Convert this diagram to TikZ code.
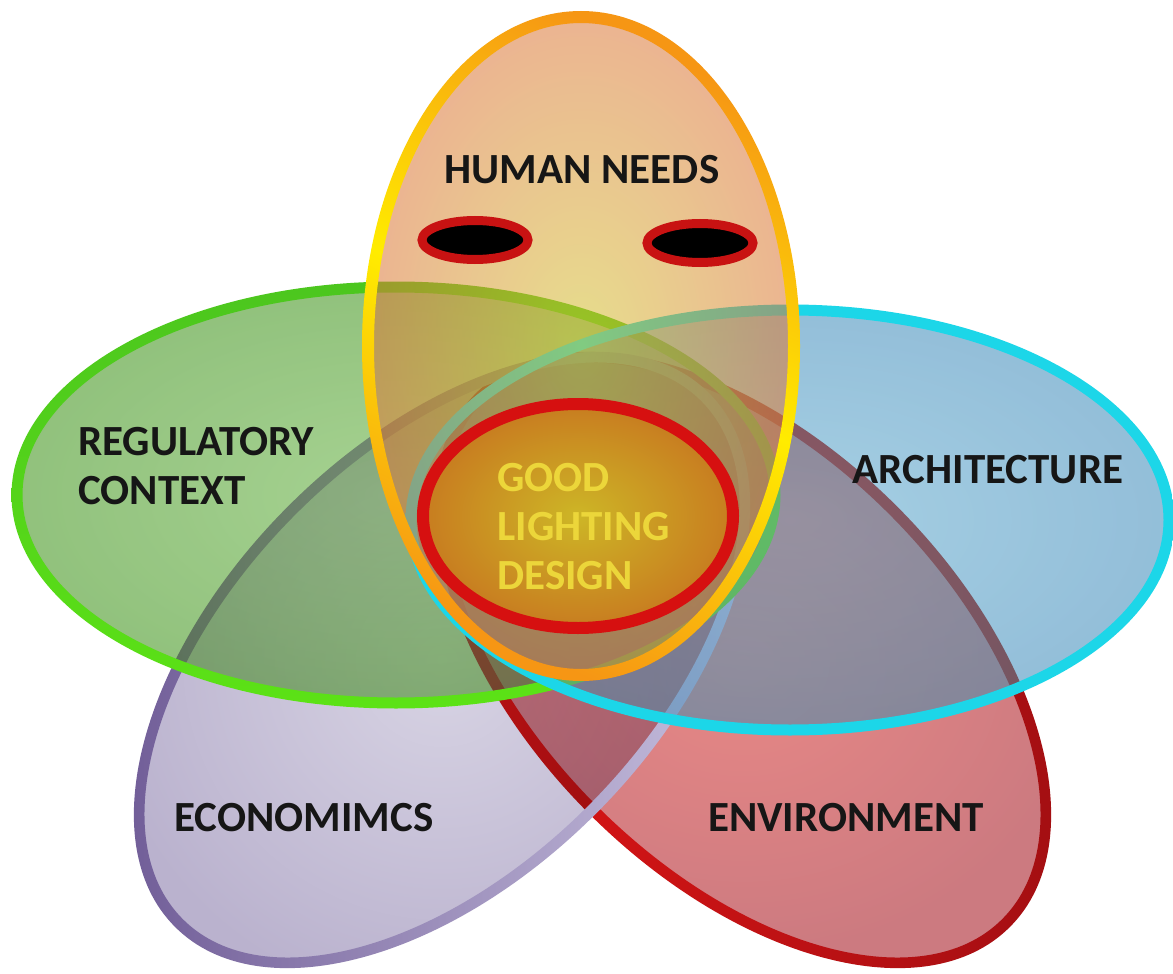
\documentclass[tikz,border=0pt]{standalone}
\usepackage{fontspec}
\setmainfont{Carlito}

% fills
\definecolor{needsPeach}{RGB}{220,119,55}
\definecolor{needsGlow}{RGB}{212,195,46}
\definecolor{ruleGreen}{RGB}{158,203,136}
\definecolor{ruleLight}{RGB}{170,214,150}
\definecolor{ruleShade}{RGB}{140,190,120}
\definecolor{archBlue}{RGB}{158,200,222}
\definecolor{archLight}{RGB}{172,214,232}
\definecolor{archShade}{RGB}{140,184,214}
\definecolor{econLilac}{RGB}{203,198,218}
\definecolor{econLightFill}{RGB}{216,212,228}
\definecolor{econShade}{RGB}{186,178,206}
\definecolor{envRed}{RGB}{222,130,130}
\definecolor{envLightFill}{RGB}{232,136,134}
\definecolor{envShade}{RGB}{204,122,128}
\definecolor{gldCore}{RGB}{205,182,38}
\definecolor{gldAmber}{RGB}{200,124,32}
% rims
\definecolor{needsOrange}{RGB}{246,150,20}
\definecolor{needsYellow}{RGB}{255,236,0}
\definecolor{ruleRim}{RGB}{76,198,30}
\definecolor{ruleLime}{RGB}{92,226,22}
\definecolor{archRim}{RGB}{28,214,232}
\definecolor{econDark}{RGB}{108,88,148}
\definecolor{econLight}{RGB}{206,200,228}
\definecolor{envBright}{RGB}{228,22,22}
\definecolor{envDark}{RGB}{160,14,18}
\definecolor{gldRing}{RGB}{214,16,16}
\definecolor{gldText}{RGB}{236,214,58}
\definecolor{eyeRed}{RGB}{200,18,18}
\definecolor{inkBlack}{RGB}{22,22,22}

\begin{document}
\begin{tikzpicture}[x=0.5pt,y=-0.5pt]
	\tikzstyle{tagtext}=[font=\bfseries\fontsize{21.5}{24.5}\selectfont, text=inkBlack, inner sep=0pt]
	\tikzstyle{eye}=[draw=eyeRed, fill=black, line width=4.5pt]

	% shaded rim: center, x radius, y radius, rotation, rim width, shading
	\newcommand{\RimShade}[6]{
		\begin{scope}[even odd rule]
			\clip #1 circle[x radius=#2+#5/2, y radius=#3+#5/2, rotate=#4]
				#1 circle[x radius=#2-#5/2, y radius=#3-#5/2, rotate=#4];
			\shade[#6] #1 circle[x radius=#2+#5/2, y radius=#3+#5/2, rotate=#4];
		\end{scope}
	}
	% petal body: center, x radius, y radius, rotation, light, shade, veil colour, veil opacity
	\newcommand{\PetalFill}[8]{
		\begin{scope}[blend mode=multiply]
			\shade[inner color=#5, outer color=#6] #1 circle[x radius=#2, y radius=#3, rotate=#4];
		\end{scope}
		\fill[#7, fill opacity=#8] #1 circle[x radius=#2, y radius=#3, rotate=#4];
	}

	\useasboundingbox (0,0) rectangle (1173,974);
	\fill [white] (0,0) rectangle (1173,974);

	% environment
	\PetalFill{(743,660)}{372}{212}{-45}{envLightFill}{envShade}{envRed}{0}
	\RimShade{(743,660)}{372}{212}{-45}{11}{left color=envBright, right color=envDark}

	% economics
	\PetalFill{(442,660)}{372}{212}{45}{econLightFill}{econShade}{econLilac}{0}
	\RimShade{(442,660)}{372}{212}{45}{11}{left color=econDark, right color=econLight}

	% regulatory context
	\PetalFill{(396,495)}{379}{208}{0}{ruleLight}{ruleShade}{ruleGreen}{0.3}
	\RimShade{(396,495)}{379}{208}{0}{11}{top color=ruleRim, bottom color=ruleLime}

	% architecture
	\PetalFill{(790,520)}{379}{210}{0}{archLight}{archShade}{archBlue}{0.4}
	\RimShade{(790,520)}{379}{210}{0}{11}{top color=archRim, bottom color=archRim}

	% human needs
	\begin{scope}[opacity=0.55]
		\shade [inner color=needsGlow, outer color=needsPeach] (581,346) circle[x radius=213, y radius=329];
	\end{scope}
	\RimShade{(581,346)}{213}{329}{0}{12}{top color=needsOrange, bottom color=needsOrange, middle color=needsYellow, shading angle=-25}

	\draw [eye] (475,240) circle[x radius=53, y radius=19.5];
	\draw [eye] (700,243) circle[x radius=53, y radius=19.5];

	% good lighting design
	\shade [inner color=gldCore, outer color=gldAmber] (578,516) circle[x radius=155, y radius=112];
	\draw [gldRing, line width=6pt] (578,516) circle[x radius=155, y radius=112];

	\node [tagtext] (needs) at (582,170) {HUMAN NEEDS};
	\node [tagtext, align=left, anchor=west] (regulatory) at (78,466) {REGULATORY\\CONTEXT};
	\node [tagtext] (architecture) at (988,470) {ARCHITECTURE};
	\node [tagtext] (economics) at (304,818) {ECONOMIMCS};
	\node [tagtext] (environment) at (846,818) {ENVIRONMENT};
	\node [tagtext, text=gldText, align=left, anchor=west] (lighting) at (497,527) {GOOD\\LIGHTING\\DESIGN};
\end{tikzpicture}
\end{document}
